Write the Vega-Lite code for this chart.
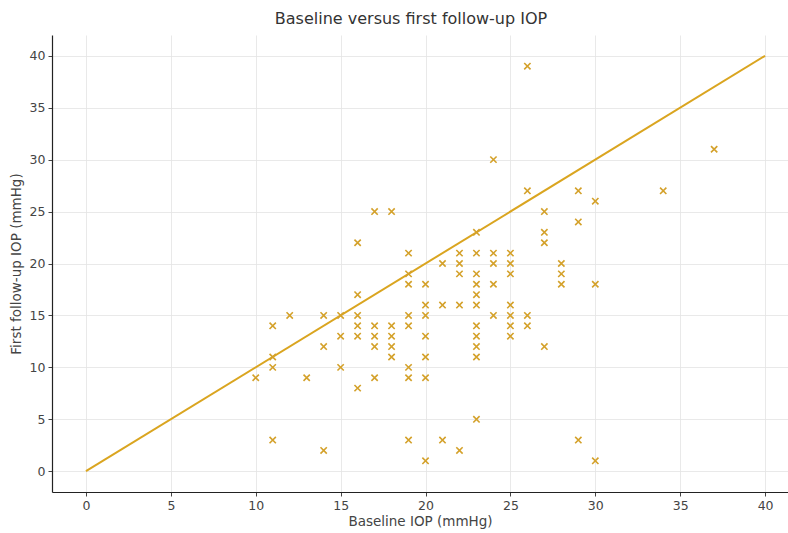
{
  "$schema": "https://vega.github.io/schema/vega-lite/v6.json",
  "autosize": {"type": "none"},
  "width": 736,
  "height": 457,
  "padding": {"left": 52, "top": 35, "right": 0, "bottom": 41},
  "background": "white",
  "title": {"text": "Baseline versus first follow-up IOP", "font": "DejaVu Sans", "fontSize": 16, "fontWeight": "normal", "color": "#333333", "anchor": "middle", "frame": "group", "dx": -9, "offset": 8},
  "config": {
    "view": {"stroke": null},
    "axis": {"labelFont": "DejaVu Sans", "titleFont": "DejaVu Sans", "labelFontSize": 12.5, "titleFontSize": 13.5, "titleFontWeight": "normal", "labelColor": "#444444", "titleColor": "#444444", "gridColor": "#e3e3e3", "gridWidth": 0.8, "domainColor": "#222222", "domainWidth": 1.2, "tickColor": "#444444", "tickSize": 4}
  },
  "datasets": {
    "pts": [
      {"baseline": 10, "followup": 9},
      {"baseline": 11, "followup": 14}, {"baseline": 11, "followup": 11}, {"baseline": 11, "followup": 10}, {"baseline": 11, "followup": 3},
      {"baseline": 12, "followup": 15},
      {"baseline": 13, "followup": 9},
      {"baseline": 14, "followup": 15}, {"baseline": 14, "followup": 12}, {"baseline": 14, "followup": 2},
      {"baseline": 15, "followup": 15}, {"baseline": 15, "followup": 13}, {"baseline": 15, "followup": 10},
      {"baseline": 16, "followup": 22}, {"baseline": 16, "followup": 17}, {"baseline": 16, "followup": 15}, {"baseline": 16, "followup": 14}, {"baseline": 16, "followup": 13}, {"baseline": 16, "followup": 8},
      {"baseline": 17, "followup": 25}, {"baseline": 17, "followup": 14}, {"baseline": 17, "followup": 13}, {"baseline": 17, "followup": 12}, {"baseline": 17, "followup": 9},
      {"baseline": 18, "followup": 25}, {"baseline": 18, "followup": 14}, {"baseline": 18, "followup": 13}, {"baseline": 18, "followup": 12}, {"baseline": 18, "followup": 11},
      {"baseline": 19, "followup": 21}, {"baseline": 19, "followup": 19}, {"baseline": 19, "followup": 18}, {"baseline": 19, "followup": 15}, {"baseline": 19, "followup": 14}, {"baseline": 19, "followup": 10}, {"baseline": 19, "followup": 9}, {"baseline": 19, "followup": 3},
      {"baseline": 20, "followup": 18}, {"baseline": 20, "followup": 16}, {"baseline": 20, "followup": 15}, {"baseline": 20, "followup": 13}, {"baseline": 20, "followup": 11}, {"baseline": 20, "followup": 9}, {"baseline": 20, "followup": 1},
      {"baseline": 21, "followup": 20}, {"baseline": 21, "followup": 16}, {"baseline": 21, "followup": 3},
      {"baseline": 22, "followup": 21}, {"baseline": 22, "followup": 20}, {"baseline": 22, "followup": 19}, {"baseline": 22, "followup": 16}, {"baseline": 22, "followup": 2},
      {"baseline": 23, "followup": 23}, {"baseline": 23, "followup": 21}, {"baseline": 23, "followup": 19}, {"baseline": 23, "followup": 18}, {"baseline": 23, "followup": 17}, {"baseline": 23, "followup": 16}, {"baseline": 23, "followup": 14}, {"baseline": 23, "followup": 13}, {"baseline": 23, "followup": 12}, {"baseline": 23, "followup": 11}, {"baseline": 23, "followup": 5},
      {"baseline": 24, "followup": 30}, {"baseline": 24, "followup": 21}, {"baseline": 24, "followup": 20}, {"baseline": 24, "followup": 18}, {"baseline": 24, "followup": 15},
      {"baseline": 25, "followup": 21}, {"baseline": 25, "followup": 20}, {"baseline": 25, "followup": 19}, {"baseline": 25, "followup": 16}, {"baseline": 25, "followup": 15}, {"baseline": 25, "followup": 14}, {"baseline": 25, "followup": 13},
      {"baseline": 26, "followup": 39}, {"baseline": 26, "followup": 27}, {"baseline": 26, "followup": 15}, {"baseline": 26, "followup": 14},
      {"baseline": 27, "followup": 25}, {"baseline": 27, "followup": 23}, {"baseline": 27, "followup": 22}, {"baseline": 27, "followup": 12},
      {"baseline": 28, "followup": 20}, {"baseline": 28, "followup": 19}, {"baseline": 28, "followup": 18},
      {"baseline": 29, "followup": 27}, {"baseline": 29, "followup": 24}, {"baseline": 29, "followup": 3},
      {"baseline": 30, "followup": 26}, {"baseline": 30, "followup": 18}, {"baseline": 30, "followup": 1},
      {"baseline": 34, "followup": 27},
      {"baseline": 37, "followup": 31}
    ],
    "identity": [
      {"baseline": 0, "followup": 0},
      {"baseline": 40, "followup": 40}
    ]
  },
  "layer": [
    {
      "data": {"name": "identity"},
      "mark": {"type": "line", "color": "#DAA520", "strokeWidth": 2, "clip": true},
      "encoding": {
        "x": {"field": "baseline", "type": "quantitative", "scale": {"domain": [-2, 41.35], "nice": false, "zero": false},
          "axis": {"title": "Baseline IOP (mmHg)", "values": [0, 5, 10, 15, 20, 25, 30, 35, 40], "grid": true, "titlePadding": 3, "labelPadding": 3}},
        "y": {"field": "followup", "type": "quantitative", "scale": {"domain": [-2, 42], "nice": false, "zero": false},
          "axis": {"title": "First follow-up IOP (mmHg)", "values": [0, 5, 10, 15, 20, 25, 30, 35, 40], "grid": true, "titlePadding": 6, "labelPadding": 3}}
      }
    },
    {
      "data": {"name": "pts"},
      "mark": {"type": "point", "shape": "M-1,-1L1,1M-1,1L1,-1", "filled": false, "stroke": "#D4A12A", "strokeWidth": 1.6, "size": 40, "opacity": 1, "clip": true},
      "encoding": {
        "x": {"field": "baseline", "type": "quantitative"},
        "y": {"field": "followup", "type": "quantitative"}
      }
    }
  ]
}
